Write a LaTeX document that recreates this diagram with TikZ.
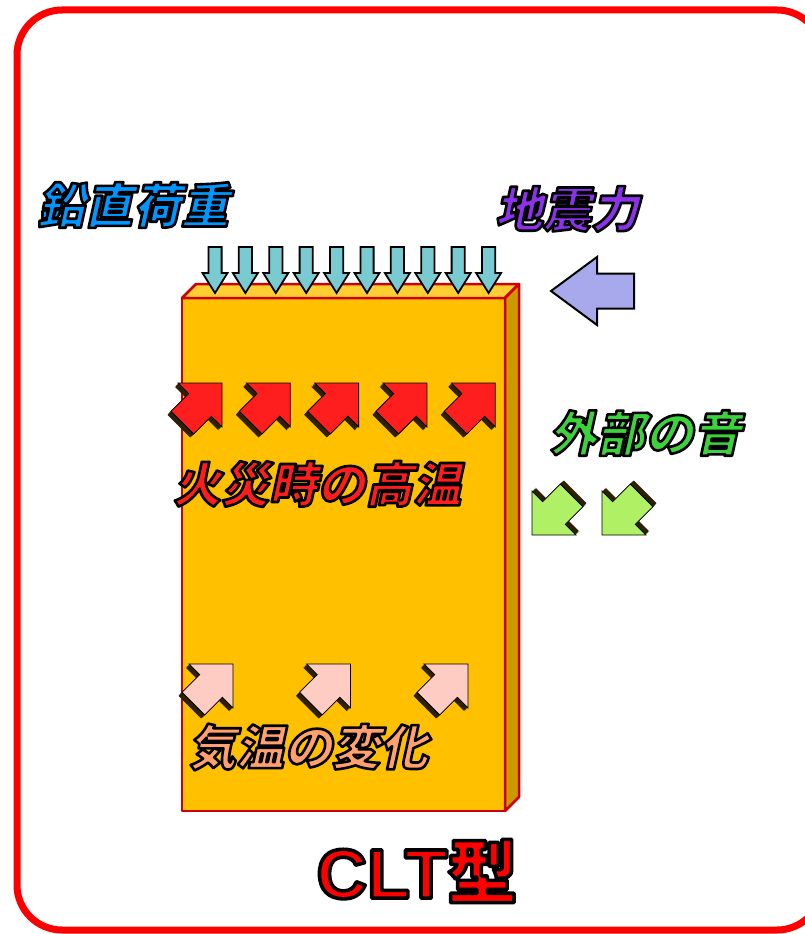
\documentclass[tikz,border=0pt]{standalone}
\usepackage{fontspec}
\newfontfamily\jpit[FakeSlant=0.22]{Noto Sans CJK JP}
\newfontfamily\jp{Noto Sans CJK JP}
\newfontfamily\lsans{Liberation Sans}
\definecolor{frame}{RGB}{255,0,0}
\definecolor{boxfront}{RGB}{255,192,0}
\definecolor{boxtop}{RGB}{255,206,50}
\definecolor{boxside}{RGB}{204,153,0}
\definecolor{boxline}{RGB}{205,0,0}
\definecolor{cteal}{RGB}{122,202,210}
\definecolor{clav}{RGB}{168,168,236}
\definecolor{cred}{RGB}{255,30,30}
\definecolor{cpink}{RGB}{255,204,196}
\definecolor{cgreen}{RGB}{176,240,100}
\definecolor{arrshade}{RGB}{45,32,5}
\definecolor{tblue}{RGB}{0,150,255}
\definecolor{tpurple}{RGB}{140,50,235}
\definecolor{tred}{RGB}{255,28,28}
\definecolor{tgreen}{RGB}{60,210,60}
\definecolor{tsalmon}{RGB}{255,160,110}
\makeatletter
\newcommand{\strokeon}[1]{\pgfsys@invoke{0 0 0 RG #1 w 1 j 2 Tr}}
\newcommand{\strokeoff}{\pgfsys@invoke{0 Tr}}
\makeatother
\tikzset{
  label jp/.style={font={\jpit\bfseries\fontsize{48}{48}\selectfont}, inner sep=0pt}
}
% x, y, rotation, fill, h, H, w, L
\newcommand{\shadowarrow}[8]{%
  \begin{scope}[shift={(#1,#2)}]
    \foreach \k in {1,...,5}{
      \fill[arrshade, shift={(180-#3:\k)}, rotate=#3]
        (0,0) -- (-#5,#6) -- (-#5,#7) -- ({-#5-#8},#7) -- ({-#5-#8},-#7) -- (-#5,-#7) -- (-#5,-#6) -- cycle;
    }
    \filldraw[fill=#4, draw=black, line width=0.8, line join=miter, rotate=#3]
      (0,0) -- (-#5,#6) -- (-#5,#7) -- ({-#5-#8},#7) -- ({-#5-#8},-#7) -- (-#5,-#7) -- (-#5,-#6) -- cycle;
  \end{scope}
}
\begin{document}
\begin{tikzpicture}[x=1pt,y=-1pt]
\useasboundingbox (0,0) rectangle (805,934);
\fill[white] (0,0) rectangle (805,934);
\begin{scope}
  \clip (0,0) rectangle (805,934);
  \draw[frame, line width=7, rounded corners=45] (17,10) rectangle (822,930);
\end{scope}
% CLT panel
\begin{scope}[draw=boxline, line width=2.5, line join=round]
  \filldraw[fill=boxfront] (182,298) rectangle (505,811);
  \filldraw[fill=boxtop] (182,298) -- (196,284) -- (519,284) -- (505,298) -- cycle;
  \filldraw[fill=boxside] (505,298) -- (519,284) -- (519,797) -- (505,811) -- cycle;
\end{scope}
% vertical load arrows
\foreach \x in {215,245.4,275.8,306.2,336.6,367,397.4,427.8,458.2,488.6}{
  \filldraw[fill=cteal, draw=black, line width=1.8, line join=miter, shift={(\x,293)}, rotate=-90]
    (0,0) -- (-20,12.5) -- (-20,6.6) -- (-46,6.6) -- (-46,-6.6) -- (-20,-6.6) -- (-20,-12.5) -- cycle;
}
% seismic arrow
\filldraw[fill=clav, draw=black, line width=2, line join=miter, shift={(551,291)}, rotate=180]
  (0,0) -- (-46,34) -- (-46,17.5) -- (-83,17.5) -- (-83,-17.5) -- (-46,-17.5) -- (-46,-34) -- cycle;
% fire arrows
\foreach \x in {222,290.3,358.6,426.9,495.2}{
  \shadowarrow{\x}{383}{45}{cred}{31}{31}{16}{25}
}
% temperature arrows
\foreach \x in {233,350.5,468}{
  \shadowarrow{\x}{664}{45}{cpink}{31}{31}{16}{25}
}
% sound arrows
\foreach \x in {532,602}{
  \shadowarrow{\x}{535}{225}{cgreen}{31}{31}{16}{25}
}
% labels
\node[label jp, text=tblue] (lv) at (133,205) {\strokeon{2.6}鉛直荷重\strokeoff};
\node[label jp, text=tpurple] (eq) at (567,209) {\strokeon{2.6}地震力\strokeoff};
\node[label jp, text=tred] (fire) at (317,484) {\strokeon{2.6}火災時の高温\strokeoff};
\node[label jp, text=tgreen] (snd) at (645,433) {\strokeon{2.6}外部の音\strokeoff};
\node[label jp, text=tsalmon] (tmp) at (308,747) {\strokeon{2.6}気温の変化\strokeoff};
\node[font={\fontsize{70}{70}\selectfont}, text=frame, inner sep=0pt] (title) at (417,871)
  {\strokeon{3.6}{\lsans\bfseries CLT}{\jp\bfseries 型}\strokeoff};
\end{tikzpicture}
\end{document}
